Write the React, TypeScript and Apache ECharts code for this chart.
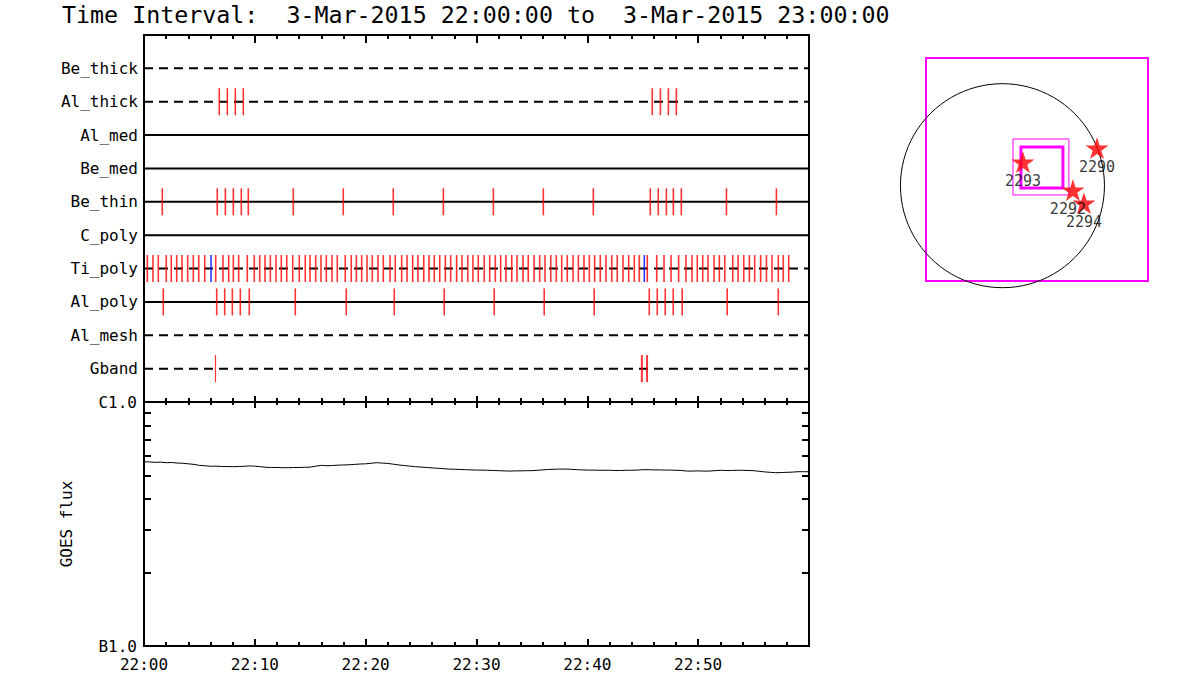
import React, { useEffect, useRef } from "react";
import * as echarts from "echarts";

const titleText = "Time Interval:  3-Mar-2015 22:00:00 to  3-Mar-2015 23:00:00";
const rowNames = ["Be_thick", "Al_thick", "Al_med", "Be_med", "Be_thin", "C_poly", "Ti_poly", "Al_poly", "Al_mesh", "Gband"];
const rowDashed = [true, true, false, false, false, false, true, false, true, true];

// event times in minutes after 22:00
const alThickEvents = [6.79, 7.52, 8.24, 8.96, 45.86, 46.59, 47.31, 48.03];
const beThinEvents = [1.65, 6.61, 7.34, 8.06, 8.78, 9.41, 13.47, 17.98, 22.49, 27.01, 31.52, 36.03, 40.54, 45.68, 46.4, 47.13, 47.76, 48.48, 52.55, 57.06];
const alPolyEvents = [1.74, 6.56, 7.28, 7.97, 8.69, 9.5, 13.65, 18.25, 22.58, 27.09, 31.6, 36.11, 40.62, 45.59, 46.31, 47.03, 47.75, 48.56, 52.62, 57.23];
const tiPolyEvents = [0.3, 0.81, 1.29, 2.01, 2.46, 2.95, 3.43, 3.94, 4.45, 4.94, 5.48, 6.47, 7.13, 7.64, 8.06, 8.54, 9.32, 9.95, 10.44, 10.92, 11.4, 11.91, 12.39, 12.88, 13.42, 14.01, 14.55, 14.98, 15.49, 15.97, 16.45, 16.96, 17.44, 18.16, 18.7, 19.16, 19.64, 20.12, 20.6, 21.11, 21.59, 22.2, 22.67, 23.25, 23.73, 24.24, 24.72, 25.24, 25.71, 26.19, 26.68, 27.19, 27.67, 28.21, 28.69, 29.21, 29.68, 30.16, 30.7, 31.19, 31.7, 32.18, 32.66, 33.18, 33.65, 34.2, 34.67, 35.19, 35.7, 36.18, 36.7, 37.2, 37.69, 38.19, 38.71, 39.19, 39.7, 40.18, 40.66, 41.17, 41.68, 42.2, 42.7, 43.22, 43.73, 44.24, 44.69, 45.41, 46.26, 46.92, 47.55, 48.24, 48.9, 49.44, 49.92, 50.41, 50.89, 51.43, 51.91, 52.4, 53.12, 53.6, 54.11, 54.62, 55.1, 55.64, 56.16, 56.66, 57.23, 57.68, 58.17];
const tiPolyBlueEvents = [6.05, 45.14];
const gbandThinEvents = [6.45];
const gbandThickEvents = [44.92, 45.39];

// GOES flux (units of 1e-7 W/m^2), sampled every 30 s from 22:00 to 23:00
const goesMinutes = [0, 0.5, 1, 1.5, 2, 2.5, 3, 3.5, 4, 4.5, 5, 5.5, 6, 6.5, 7, 7.5, 8, 8.5, 9, 9.5, 10, 10.5, 11, 11.5, 12, 12.5, 13, 13.5, 14, 14.5, 15, 15.5, 16, 16.5, 17, 17.5, 18, 18.5, 19, 19.5, 20, 20.5, 21, 21.5, 22, 22.5, 23, 23.5, 24, 24.5, 25, 25.5, 26, 26.5, 27, 27.5, 28, 28.5, 29, 29.5, 30, 30.5, 31, 31.5, 32, 32.5, 33, 33.5, 34, 34.5, 35, 35.5, 36, 36.5, 37, 37.5, 38, 38.5, 39, 39.5, 40, 40.5, 41, 41.5, 42, 42.5, 43, 43.5, 44, 44.5, 45, 45.5, 46, 46.5, 47, 47.5, 48, 48.5, 49, 49.5, 50, 50.5, 51, 51.5, 52, 52.5, 53, 53.5, 54, 54.5, 55, 55.5, 56, 56.5, 57, 57.5, 58, 58.5, 59, 59.5, 60];
const goesFlux = [5.69, 5.68, 5.66, 5.67, 5.64, 5.65, 5.62, 5.61, 5.58, 5.55, 5.5, 5.48, 5.45, 5.46, 5.44, 5.44, 5.43, 5.44, 5.45, 5.47, 5.46, 5.43, 5.4, 5.39, 5.39, 5.38, 5.38, 5.39, 5.39, 5.4, 5.41, 5.46, 5.5, 5.48, 5.49, 5.51, 5.52, 5.53, 5.55, 5.57, 5.58, 5.61, 5.64, 5.62, 5.6, 5.56, 5.52, 5.49, 5.46, 5.43, 5.41, 5.39, 5.37, 5.35, 5.33, 5.31, 5.3, 5.29, 5.28, 5.27, 5.26, 5.26, 5.25, 5.24, 5.23, 5.22, 5.21, 5.22, 5.22, 5.23, 5.23, 5.25, 5.27, 5.29, 5.3, 5.31, 5.31, 5.3, 5.28, 5.27, 5.26, 5.26, 5.25, 5.25, 5.25, 5.24, 5.24, 5.25, 5.25, 5.26, 5.28, 5.28, 5.27, 5.27, 5.26, 5.26, 5.25, 5.24, 5.21, 5.21, 5.22, 5.21, 5.21, 5.23, 5.25, 5.24, 5.24, 5.25, 5.25, 5.24, 5.23, 5.2, 5.17, 5.15, 5.13, 5.14, 5.15, 5.16, 5.18, 5.18, 5.18];
const goesTickValues = [1, 2, 3, 4, 5, 6, 7, 8, 9, 10];

// inset: solar disk (arcsec)
const solarRadius = 970;
const insetXRange = [-727, 1384];
const insetYRange = [-906, 1214];
const fovBoxes = [
  [100, 444, 632, -88, 1],
  [176, 368, 575, -21, 3],
];
const regionNames = ["2290", "2293", "2292", "2294"];
const regionX = [899, 195, 670, 775];
const regionY = [358, 225, -41, -165];
const regionLabelOffsetX = [0, 0, -5, 0];

const FONT = "DejaVu Sans Mono";
const STAR = "path://M50,0L61,35L98,35L68,57L79,91L50,70L21,91L32,57L2,35L39,35Z";

function eventSeries(times: number[], row: number, color: string, width: number) {
  return {
    type: "scatter",
    xAxisIndex: 1,
    yAxisIndex: 0,
    symbol: "rect",
    symbolSize: [width, 27],
    itemStyle: { color },
    z: 5,
    silent: true,
    data: times.map((t) => [t, row]),
  };
}

function timeAxis(gridIndex: number, position: string, major: number, minor: number, labels: boolean) {
  return {
    type: "value",
    gridIndex,
    position,
    min: 0,
    max: 60,
    interval: 10,
    axisLine: { show: false },
    splitLine: { show: false },
    axisTick: { show: true, inside: true, length: major, lineStyle: { color: "#000", width: 2 } },
    minorTick: { show: true, splitNumber: 5, length: minor, lineStyle: { color: "#000", width: 2 } },
    axisLabel: {
      show: labels,
      margin: 10,
      fontFamily: FONT,
      fontSize: 16,
      color: "#000",
      showMaxLabel: false,
      formatter: (v: number) => (v >= 60 ? "" : "22:" + String(v).padStart(2, "0")),
    },
  };
}

export default function App() {
  const ref = useRef<HTMLDivElement>(null);
  useEffect(() => {
    if (!ref.current) return;
    const chart = echarts.init(ref.current, undefined, { renderer: "svg" });
    const logTicks = goesTickValues.map((k) => Math.log10(k * 1e-7));

    const rowLines = rowNames.map((name, i) => ({
      type: "line",
      name,
      xAxisIndex: 1,
      yAxisIndex: 0,
      symbol: "none",
      silent: true,
      z: 2,
      lineStyle: { color: "#000", width: 2, type: rowDashed[i] ? [9, 6] : "solid" },
      data: [
        [0, i + 1],
        [60, i + 1],
      ],
    }));

    const option: any = {
      animation: false,
      backgroundColor: "#fff",
      graphic: [
        {
          type: "text",
          left: 62,
          top: 3,
          style: { text: titleText, fontFamily: FONT, fontSize: 23.3, fill: "#000" },
        },
      ],
      grid: [
        { left: 144, top: 35, width: 665, height: 367, show: true, borderColor: "#000", borderWidth: 2, backgroundColor: "transparent", outerBoundsMode: "none" },
        { left: 144, top: 402, width: 665, height: 244, show: true, borderColor: "#000", borderWidth: 2, backgroundColor: "transparent", outerBoundsMode: "none" },
        { left: 926, top: 58, width: 222, height: 223, show: true, borderColor: "#ff00ff", borderWidth: 2, backgroundColor: "transparent", outerBoundsMode: "none" },
      ],
      xAxis: [
        timeAxis(0, "top", 8, 4, false),
        timeAxis(0, "bottom", 6, 4, false),
        timeAxis(1, "top", 6, 3, false),
        timeAxis(1, "bottom", 7, 4, true),
        { type: "value", gridIndex: 2, min: insetXRange[0], max: insetXRange[1], show: false },
      ],
      yAxis: [
        {
          type: "value",
          gridIndex: 0,
          inverse: true,
          min: 0,
          max: 11,
          interval: 1,
          axisLine: { show: false },
          axisTick: { show: false },
          splitLine: { show: false },
          axisLabel: {
            margin: 6,
            fontFamily: FONT,
            fontSize: 16,
            color: "#000",
            formatter: (v: number) => (v >= 1 && v <= 10 ? rowNames[v - 1] : ""),
          },
        },
        {
          type: "log",
          gridIndex: 1,
          position: "left",
          min: 1e-7,
          max: 1e-6,
          axisLine: { show: false },
          axisTick: { show: false },
          axisLabel: { show: false },
          splitLine: { show: false },
          minorTick: { show: false },
          name: "GOES flux",
          nameLocation: "middle",
          nameGap: 70,
          nameTextStyle: { fontFamily: FONT, fontSize: 16, color: "#000" },
        },
        {
          type: "value",
          gridIndex: 1,
          position: "left",
          min: -7,
          max: -6,
          axisLine: { show: false },
          splitLine: { show: false },
          axisTick: { show: true, inside: true, length: 7, customValues: logTicks, lineStyle: { color: "#000", width: 2 } },
          axisLabel: {
            customValues: [-7, -6],
            margin: 7,
            fontFamily: FONT,
            fontSize: 16,
            color: "#000",
            formatter: (v: number) => (v > -6.5 ? "C1.0" : "B1.0"),
          },
        },
        {
          type: "value",
          gridIndex: 1,
          position: "right",
          min: -7,
          max: -6,
          axisLine: { show: false },
          splitLine: { show: false },
          axisTick: { show: true, inside: true, length: 7, customValues: logTicks, lineStyle: { color: "#000", width: 2 } },
          axisLabel: { show: false },
        },
        { type: "value", gridIndex: 2, min: insetYRange[0], max: insetYRange[1], show: false },
      ],
      series: [
        ...rowLines,
        eventSeries(alThickEvents, 2, "#ff0000", 1.6),
        eventSeries(beThinEvents, 5, "#ff0000", 1.6),
        eventSeries(tiPolyEvents, 7, "#ff0000", 1.6),
        eventSeries(tiPolyBlueEvents, 7, "#0000ff", 1.6),
        eventSeries(alPolyEvents, 8, "#ff0000", 1.6),
        eventSeries(gbandThinEvents, 10, "#ff0000", 1.2),
        eventSeries(gbandThickEvents, 10, "#ff0000", 2),
        {
          type: "line",
          xAxisIndex: 3,
          yAxisIndex: 1,
          symbol: "none",
          silent: true,
          lineStyle: { color: "#000", width: 1 },
          data: goesMinutes.map((m, i) => [m, goesFlux[i] * 1e-7]),
        },
        {
          type: "custom",
          xAxisIndex: 4,
          yAxisIndex: 4,
          silent: true,
          clip: false,
          data: [[0, 0, solarRadius]],
          renderItem: (params: any, api: any) => {
            const c = api.coord([api.value(0), api.value(1)]);
            const r = api.size([api.value(2), 0])[0];
            return { type: "circle", shape: { cx: c[0], cy: c[1], r }, style: { fill: "none", stroke: "#000", lineWidth: 1 } };
          },
        },
        {
          type: "custom",
          xAxisIndex: 4,
          yAxisIndex: 4,
          silent: true,
          clip: false,
          data: fovBoxes,
          renderItem: (params: any, api: any) => {
            const p1 = api.coord([api.value(0), api.value(1)]);
            const p2 = api.coord([api.value(2), api.value(3)]);
            return {
              type: "rect",
              shape: { x: p1[0], y: p1[1], width: p2[0] - p1[0], height: p2[1] - p1[1] },
              style: { fill: "none", stroke: "#ff00ff", lineWidth: api.value(4) },
            };
          },
        },
        {
          type: "scatter",
          xAxisIndex: 4,
          yAxisIndex: 4,
          silent: true,
          symbol: STAR,
          symbolSize: 23,
          symbolKeepAspect: true,
          itemStyle: { color: "#ff0000" },
          z: 6,
          label: {
            show: true,
            position: "bottom",
            distance: 1,
            formatter: "{b}",
            fontFamily: FONT,
            fontSize: 15,
            color: "#000",
          },
          data: regionNames.map((n, i) => ({
            name: n,
            value: [regionX[i], regionY[i]],
            label: { offset: [regionLabelOffsetX[i], 0] },
          })),
        },
      ],
    };
    chart.setOption(option);
    return () => chart.dispose();
  }, []);
  return <div ref={ref} style={{ position: "absolute", left: 0, top: 0, width: 1200, height: 700 }} />;
}
